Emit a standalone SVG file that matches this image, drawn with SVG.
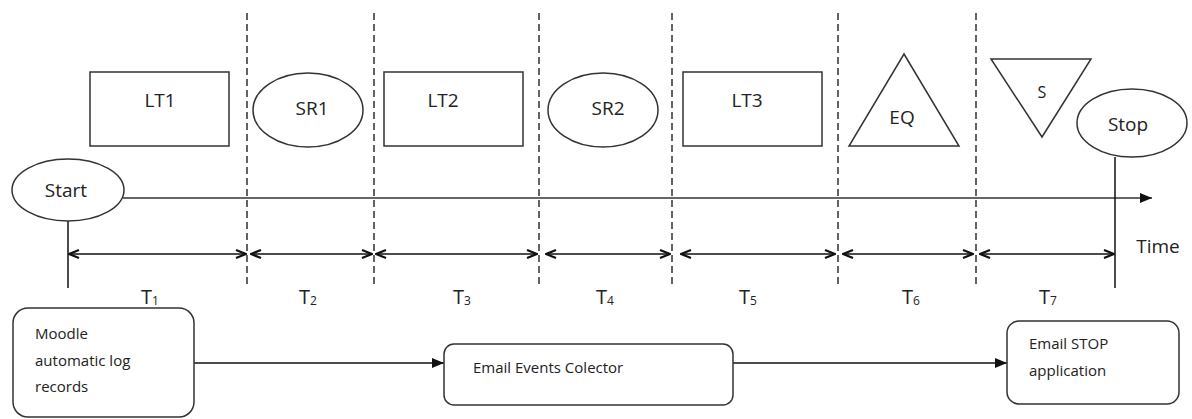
<svg xmlns="http://www.w3.org/2000/svg" width="1192" height="419" viewBox="0 0 1192 419">
  <defs>
    <style>
      .shape { fill: #ffffff; stroke: #333333; stroke-width: 1.5; }
      .lbl { font-family: "Open Sans", "Liberation Sans", sans-serif; font-size: 19px; fill: #222222; text-anchor: middle; dominant-baseline: central; }
      .tl { font-size: 20px; }
      .box-txt { font-family: "Open Sans", "Liberation Sans", sans-serif; font-size: 15px; fill: #222222; }
      .sub { font-size: 12px; }
      .divider { stroke: #222222; stroke-width: 1.4; stroke-dasharray: 7 4; fill: none; }
      .span { stroke: #111111; stroke-width: 1.5; fill: none; marker-start: url(#chev-start); marker-end: url(#chev-end); }
      .solid { stroke: #111111; stroke-width: 1.5; fill: none; }
    </style>
    <marker id="chev-end" viewBox="0 0 12 10" refX="11" refY="5" markerWidth="12" markerHeight="10" markerUnits="userSpaceOnUse" orient="auto">
      <path d="M1,1 L11,5 L1,9" fill="none" stroke="#111111" stroke-width="2.2"/>
    </marker>
    <marker id="chev-start" viewBox="0 0 12 10" refX="1" refY="5" markerWidth="12" markerHeight="10" markerUnits="userSpaceOnUse" orient="auto">
      <path d="M11,1 L1,5 L11,9" fill="none" stroke="#111111" stroke-width="2.2"/>
    </marker>
    <marker id="solid-head" viewBox="0 0 12 10" refX="12" refY="5" markerWidth="12" markerHeight="10" markerUnits="userSpaceOnUse" orient="auto">
      <path d="M0,0 L12,5 L0,10 z" fill="#111111"/>
    </marker>
  </defs>

  <rect width="1192" height="419" fill="#ffffff"/>

  <!-- phase dividers -->
  <g id="dividers">
    <line class="divider" x1="247" y1="13" x2="247" y2="288"/>
    <line class="divider" x1="374" y1="13" x2="374" y2="288"/>
    <line class="divider" x1="539" y1="13" x2="539" y2="288"/>
    <line class="divider" x1="672" y1="13" x2="672" y2="288"/>
    <line class="divider" x1="838" y1="13" x2="838" y2="288"/>
    <line class="divider" x1="976" y1="13" x2="976" y2="288"/>
  </g>

  <!-- connectors: time axis, interval spans and process flow -->
  <g id="connectors">
    <line x1="123" y1="198" x2="1152" y2="198" stroke="#333333" stroke-width="1.6" marker-end="url(#solid-head)"/>
    <line class="solid" x1="68" y1="221" x2="68" y2="288"/>
    <line class="solid" x1="1115" y1="157" x2="1115" y2="288"/>
    <line class="span" x1="69" y1="254" x2="246" y2="254"/>
    <line class="span" x1="251" y1="254" x2="372" y2="254"/>
    <line class="span" x1="376" y1="254" x2="537" y2="254"/>
    <line class="span" x1="546" y1="254" x2="670" y2="254"/>
    <line class="span" x1="681" y1="254" x2="835" y2="254"/>
    <line class="span" x1="843" y1="254" x2="973" y2="254"/>
    <line class="span" x1="980" y1="254" x2="1114" y2="254"/>
    <line class="solid" x1="194" y1="363" x2="444" y2="363" marker-end="url(#solid-head)"/>
    <line class="solid" x1="733" y1="363" x2="1007" y2="363" marker-end="url(#solid-head)"/>
  </g>

  <!-- interval labels -->
  <g id="intervals">
    <text class="lbl tl" x="150" y="296">T<tspan class="sub" dy="4">1</tspan></text>
    <text class="lbl tl" x="308" y="296">T<tspan class="sub" dy="4">2</tspan></text>
    <text class="lbl tl" x="462" y="296">T<tspan class="sub" dy="4">3</tspan></text>
    <text class="lbl tl" x="605" y="296">T<tspan class="sub" dy="4">4</tspan></text>
    <text class="lbl tl" x="748" y="296">T<tspan class="sub" dy="4">5</tspan></text>
    <text class="lbl tl" x="911" y="296">T<tspan class="sub" dy="4">6</tspan></text>
    <text class="lbl tl" x="1048" y="296">T<tspan class="sub" dy="4">7</tspan></text>
    <text class="lbl" x="1158" y="246">Time</text>
  </g>

  <g id="start">
    <ellipse class="shape" cx="68" cy="190" rx="56" ry="31"/>
    <text class="lbl" x="66" y="190">Start</text>
  </g>
  <g id="lt1">
    <rect class="shape" x="90" y="72" width="139" height="74"/>
    <text class="lbl" x="160" y="100">LT1</text>
  </g>
  <g id="sr1">
    <ellipse class="shape" cx="308" cy="110" rx="55" ry="37"/>
    <text class="lbl" x="312" y="108">SR1</text>
  </g>
  <g id="lt2">
    <rect class="shape" x="384" y="72" width="139" height="74"/>
    <text class="lbl" x="443" y="100">LT2</text>
  </g>
  <g id="sr2">
    <ellipse class="shape" cx="603" cy="110" rx="55" ry="37"/>
    <text class="lbl" x="608" y="108">SR2</text>
  </g>
  <g id="lt3">
    <rect class="shape" x="683" y="72" width="139" height="74"/>
    <text class="lbl" x="747" y="100">LT3</text>
  </g>
  <g id="eq">
    <polygon class="shape" points="904,54 959,146 849,146"/>
    <text class="lbl" x="902" y="117">EQ</text>
  </g>
  <g id="s">
    <polygon class="shape" points="991,59 1091,59 1042,137"/>
    <text class="lbl" x="1042" y="92" style="font-size:16px">S</text>
  </g>
  <g id="stop">
    <ellipse class="shape" cx="1132" cy="123" rx="55" ry="34"/>
    <text class="lbl" x="1128" y="124">Stop</text>
  </g>

  <g id="moodle">
    <rect class="shape" x="13" y="308" width="181" height="109" rx="15" ry="15"/>
    <text class="box-txt" x="35" y="339">Moodle</text>
    <text class="box-txt" x="35" y="366">automatic log</text>
    <text class="box-txt" x="35" y="392">records</text>
  </g>
  <g id="collector">
    <rect class="shape" x="444" y="344" width="289" height="61" rx="10" ry="10"/>
    <text class="box-txt" x="473" y="373">Email Events Colector</text>
  </g>
  <g id="stop-app">
    <rect class="shape" x="1007" y="321" width="172" height="83" rx="12" ry="12"/>
    <text class="box-txt" x="1029" y="349">Email STOP</text>
    <text class="box-txt" x="1029" y="376">application</text>
  </g>
</svg>
